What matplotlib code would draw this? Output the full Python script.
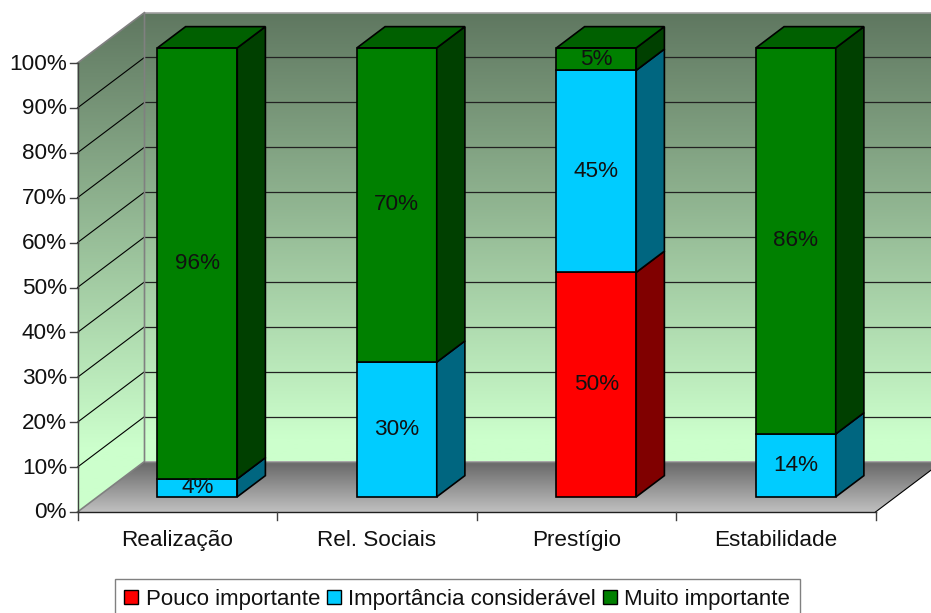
import numpy as np
import matplotlib
matplotlib.use('Agg')
import matplotlib.pyplot as plt
from matplotlib.colors import LinearSegmentedColormap
from matplotlib.patches import Polygon, Patch

categories = ['Realização', 'Rel. Sociais', 'Prestígio', 'Estabilidade']
series_names = ['Pouco importante', 'Importância considerável', 'Muito importante']
pouco = [0, 0, 50, 0]
consideravel = [4, 30, 45, 14]
muito = [96, 70, 5, 86]
y_ticks = [0, 10, 20, 30, 40, 50, 60, 70, 80, 90, 100]

front_colors = ['#ff0000', '#00ccff', '#008000']
side_colors = ['#800000', '#006680', '#004000']
top_colors = ['#990000', '#007a99', '#006000']

plt.rcParams['font.family'] = ['Liberation Sans', 'DejaVu Sans']
FS = 16.2

W, H = 931, 613
# the "3d" frame, in pixels of the picture
X0, Y0 = 77.5, 512
CAT_W = 199.5
PX_PER_PCT = 4.49
DEPTH_X, DEPTH_Y = 67, -50.5


def pt(cat, value, depth=0.0):
    # category units, percent and depth (0 front, 1 back wall) to pixels
    return (X0 + cat * CAT_W + depth * DEPTH_X,
            Y0 - value * PX_PER_PCT + depth * DEPTH_Y)


def gradient(ax, poly, top, bottom, y_top, y_bottom, stop=1.0):
    # vertical fade, stays at the bottom colour after stop
    cmap = LinearSegmentedColormap.from_list('g', [(0, top), (stop, bottom), (1, bottom)])
    im = ax.imshow(np.linspace(0, 1, 256).reshape(-1, 1), cmap=cmap, aspect='auto',
                   extent=(0, W, y_bottom, y_top), zorder=1)
    patch = Polygon(poly, closed=True, transform=ax.transData)
    im.set_clip_path(patch)


fig = plt.figure(figsize=(W / 100, H / 100), dpi=100)
ax = fig.add_axes([0, 0, 1, 1])

n = len(categories)

# walls and floor
back = [pt(0, 100, 1), pt(n, 100, 1), pt(n, 0, 1), pt(0, 0, 1)]
left = [pt(0, 100), pt(0, 100, 1), pt(0, 0, 1), pt(0, 0)]
floor = [pt(0, 0), pt(0, 0, 1), pt(n, 0, 1), pt(n, 0)]
wall_top = pt(0, 100, 1)[1]
wall_bottom = pt(0, 0, 1)[1]
gradient(ax, back, '#5f7760', '#ccffcc', wall_top, wall_bottom, stop=0.95)
gradient(ax, left, '#5f7760', '#ccffcc', wall_top, Y0, stop=0.87)
gradient(ax, floor, '#666666', '#c0c0c0', wall_bottom, Y0)

# gridlines
for v in y_ticks[1:-1]:
    xs, ys = zip(pt(0, v), pt(0, v, 1), pt(n, v, 1))
    ax.plot(xs[:2], ys[:2], color='black', lw=0.8, zorder=2)
    ax.plot(xs[1:], ys[1:], color='#222222', lw=0.9, zorder=2)
xs, ys = zip(pt(0, 100, 1), pt(n, 100, 1))
ax.plot(xs, ys, color='#a0a0a0', lw=1.2, zorder=2)
xs, ys = zip(pt(0, 100), pt(0, 100, 1), pt(0, 0, 1), pt(0, 0))
ax.plot(xs, ys, color='#808080', lw=1.2, zorder=2)
xs, ys = zip(pt(0, 0, 1), pt(n, 0, 1))
ax.plot(xs, ys, color='#808080', lw=1.0, zorder=2)
xs, ys = zip(pt(n, 0), pt(n, 0, 1))
ax.plot(xs, ys, color='black', lw=0.8, zorder=2)

# axis lines, ticks, tick labels
xs, ys = zip(pt(0, 0), pt(0, 100))
ax.plot(xs, ys, color='#404040', lw=1.0, zorder=2)
xs, ys = zip(pt(0, 0), pt(n, 0))
ax.plot(xs, ys, color='#202020', lw=1.0, zorder=2)
for v in y_ticks:
    x, y = pt(0, v)
    ax.plot([x - 8, x], [y, y], color='#404040', lw=1.0, zorder=2)
    ax.text(x - 10.5, y + 1, '%d%%' % v, ha='right', va='center', fontsize=FS, color='#111111')
for i in range(n + 1):
    x, y = pt(i, 0)
    ax.plot([x, x], [y, y + 8], color='#404040', lw=1.0, zorder=2)
for i, name in enumerate(categories):
    x, y = pt(i + 0.5, 0)
    ax.text(x, y + 34, name, ha='center', va='baseline', fontsize=FS, color='#111111')

# bars
BAR_W = 0.4
D1, D2 = 0.30, 0.72
series = [pouco, consideravel, muito]
for i in range(n):
    bottom = 0
    c0 = i + 0.5 - BAR_W / 2
    c1 = i + 0.5 + BAR_W / 2
    for s in range(len(series)):
        v = series[s][i]
        if v == 0:
            continue
        top = bottom + v
        z = 3 + i * 0.1 + s * 0.01
        ax.add_patch(Polygon([pt(c0, bottom, D1), pt(c1, bottom, D1), pt(c1, top, D1), pt(c0, top, D1)],
                             closed=True, fc=front_colors[s], ec='black', lw=1.2, zorder=z))
        ax.add_patch(Polygon([pt(c1, bottom, D1), pt(c1, bottom, D2), pt(c1, top, D2), pt(c1, top, D1)],
                             closed=True, fc=side_colors[s], ec='black', lw=1.2, zorder=z))
        if top == 100:
            ax.add_patch(Polygon([pt(c0, top, D1), pt(c0, top, D2), pt(c1, top, D2), pt(c1, top, D1)],
                                 closed=True, fc=top_colors[s], ec='black', lw=1.2, zorder=z))
        x, y = pt(i + 0.5, bottom + v / 2, D1)
        ax.text(x, y, '%d%%' % v, ha='center', va='center', fontsize=FS, color='#111111', zorder=5)
        bottom = top

handles = [Patch(fc=front_colors[s], ec='black', lw=1.0, label=series_names[s]) for s in range(3)]
leg = ax.legend(handles=handles, ncol=3, loc='lower left', bbox_to_anchor=(115 / W, -0.01),
                bbox_transform=fig.transFigure, fontsize=16, frameon=True, fancybox=False,
                edgecolor='#808080', framealpha=1, handlelength=0.62, handleheight=0.62,
                handletextpad=0.35, columnspacing=0.3, borderpad=0.42, borderaxespad=0,
                labelcolor='#111111')
leg.get_frame().set_linewidth(1.0)
leg.set_zorder(6)

ax.set_xlim(0, W)
ax.set_ylim(H, 0)
ax.axis('off')
fig.savefig('out.png', dpi=100)
